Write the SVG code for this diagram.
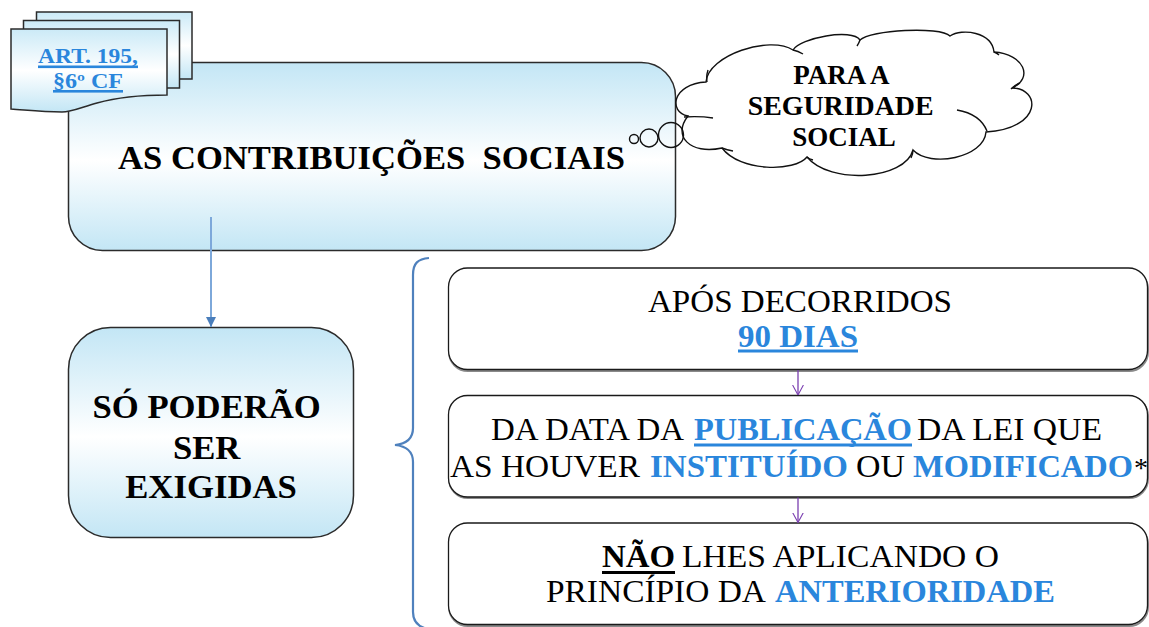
<svg xmlns="http://www.w3.org/2000/svg" width="1149" height="627" viewBox="0 0 1149 627">
<style>
.serif{font-family:"Liberation Serif","Times New Roman",serif;}
.b{font-weight:bold;}
.blk{fill:#000;}
.blue{fill:#2a86dc;}
.box{stroke:#2b2b2b;stroke-width:1.5;}
.wbox{fill:#fff;stroke:#1a1a1a;stroke-width:1.3;}
.shadow{fill:none;stroke:#8a8a8a;stroke-width:2;}
.cloud{fill:none;stroke:#111;stroke-width:1.4;}
.purple{stroke:#7a3fb0;stroke-width:1.3;fill:none;}
</style>
<defs>
<linearGradient id="gBlue" x1="0" y1="0" x2="0" y2="1">
<stop offset="0" stop-color="#c3e6f5"/>
<stop offset="0.52" stop-color="#ffffff"/>
<stop offset="1" stop-color="#c3e6f5"/>
</linearGradient>
<linearGradient id="gPage" x1="0" y1="0" x2="0" y2="1">
<stop offset="0" stop-color="#cbeaf7"/>
<stop offset="0.5" stop-color="#ffffff"/>
<stop offset="1" stop-color="#c3e6f5"/>
</linearGradient>
<marker id="arrBlue" viewBox="0 0 10 10" refX="10" refY="5" markerWidth="5" markerHeight="5" orient="auto" markerUnits="strokeWidth">
<path d="M0,0 L10,5 L0,10 Z" fill="#4a7ebb"/>
</marker>
<marker id="arrPurple" viewBox="0 0 12 14" refX="12" refY="7" markerWidth="10" markerHeight="12" orient="auto" markerUnits="userSpaceOnUse">
<path d="M0,0.5 L12,7 L0,13.5" fill="none" stroke="#7a3fb0" stroke-width="1.3"/>
</marker>
</defs>

<g id="main-box">
<rect x="68.5" y="62.5" width="607" height="188" rx="34" ry="34" fill="url(#gBlue)" class="box"/>
<text class="serif b blk" x="371.5" y="169" font-size="34.7" text-anchor="middle" textLength="507" lengthAdjust="spacingAndGlyphs" xml:space="preserve">AS CONTRIBUIÇÕES  SOCIAIS</text>
</g>

<g id="doc-stack">
<path d="M36.5,12 H192 V79 H36.5 Z" fill="url(#gPage)" class="box"/>
<path d="M23.5,20.5 H179.5 V88 H23.5 Z" fill="url(#gPage)" class="box"/>
<path d="M11,29 H167 V95 C140,95 115,98 97,103 C82,107 72,112 62,112 C42,112 26,110 11,109 Z" fill="url(#gPage)" class="box"/>
<text class="serif b blue" x="88" y="63" font-size="20" text-anchor="middle" textLength="100" lengthAdjust="spacingAndGlyphs">ART. 195,</text>
<rect x="38" y="65.5" width="100" height="2.6" fill="#2a86dc"/>
<text class="serif b blue" x="88" y="88" font-size="20" text-anchor="middle" textLength="70" lengthAdjust="spacingAndGlyphs">§6º CF</text>
<rect x="53" y="90" width="70" height="2.6" fill="#2a86dc"/>
</g>

<g id="thought-cloud">
<circle cx="634" cy="139" r="4.5" class="cloud"/>
<circle cx="649" cy="138" r="9" class="cloud"/>
<circle cx="671" cy="135" r="12.5" class="cloud"/>
<path class="cloud" d="M706,82 C708,55 770,35 793,50 C800,38 852,28 860,40 C870,30 940,26 950,36 C962,28 992,32 994,52 C1024,54 1034,78 1012,88 C1040,88 1044,128 986,132 C984,158 930,168 913,150 C905,180 830,185 807,157 C795,172 740,172 722,148 C690,155 672,136 688,116 C668,112 672,84 706,82 Z"/>
<path class="cloud" d="M707,82 Q706,76 708,70 M793,50 Q798,51 803,54 M860,40 Q859,43 857,46 M994,52 Q997,53 999,55 M1011,89 Q1015,85 1020,83 M957,110 Q980,114 987,131 M913,150 Q913,154 911,158 M807,157 Q809,159 813,160 M722,148 Q727,150 733,151 M684,117 Q700,116 713,118"/>
<text class="serif b blk" font-size="27" text-anchor="middle">
<tspan x="844" y="84">PARA A</tspan>
<tspan x="844" y="115" textLength="186" lengthAdjust="spacingAndGlyphs">SEGURIDADE</tspan>
<tspan x="844" y="146">SOCIAL</tspan>
</text>
</g>

<g id="exigidas-box">
<rect x="68.5" y="327.5" width="285" height="210" rx="42" ry="42" fill="url(#gBlue)" class="box"/>
<text class="serif b blk" font-size="34.7" text-anchor="middle">
<tspan x="211" y="418">SÓ PODERÃO</tspan>
<tspan x="211" y="459">SER</tspan>
<tspan x="211" y="498">EXIGIDAS</tspan>
</text>
</g>

<g id="brace">
<path d="M429,258 C418,259 413,263 413,275 V428 C413,440 405,444 395,445 C405,446 413,450 413,462 V612 C413,622 418,627 428,629" fill="none" stroke="#4f81bd" stroke-width="2.2"/>
</g>

<g id="box-90-dias">
<rect x="449" y="270" width="699" height="101" rx="19" ry="19" class="shadow"/>
<rect x="448.5" y="268" width="699" height="101.5" rx="19" ry="19" class="wbox"/>
<text class="serif blk" x="648" y="312" font-size="32.5" textLength="304" lengthAdjust="spacingAndGlyphs">APÓS DECORRIDOS</text>
<text class="serif b blue" x="738" y="347" font-size="32.5" textLength="120" lengthAdjust="spacingAndGlyphs">90 DIAS</text>
<rect x="738" y="349.5" width="120" height="3" fill="#2a86dc"/>
</g>

<g id="box-publicacao">
<rect x="449" y="397" width="699" height="101" rx="19" ry="19" class="shadow"/>
<rect x="448.5" y="395.5" width="699" height="101.5" rx="19" ry="19" class="wbox"/>
<text class="serif" font-size="32.5" y="440">
<tspan class="blk" x="491" textLength="193" lengthAdjust="spacingAndGlyphs">DA DATA DA</tspan><tspan class="b blue" x="694" textLength="218" lengthAdjust="spacingAndGlyphs">PUBLICAÇÃO</tspan><tspan class="blk" x="917" textLength="185" lengthAdjust="spacingAndGlyphs">DA LEI QUE</tspan>
</text>
<rect x="694" y="443.5" width="218" height="3" fill="#2a86dc"/>
<text class="serif" font-size="32.5" y="477">
<tspan class="blk" x="450" textLength="190" lengthAdjust="spacingAndGlyphs">AS HOUVER</tspan><tspan class="b blue" x="650" textLength="198" lengthAdjust="spacingAndGlyphs">INSTITUÍDO</tspan><tspan class="blk" x="856" textLength="49" lengthAdjust="spacingAndGlyphs">OU</tspan><tspan class="b blue" x="913" textLength="220" lengthAdjust="spacingAndGlyphs">MODIFICADO</tspan><tspan class="blk" x="1134" font-size="28">*</tspan>
</text>
</g>

<g id="box-anterioridade">
<rect x="449" y="525" width="699" height="101" rx="19" ry="19" class="shadow"/>
<rect x="448.5" y="523" width="699" height="101.5" rx="19" ry="19" class="wbox"/>
<text class="serif" font-size="32.5" y="567">
<tspan class="b blk" x="602" textLength="73" lengthAdjust="spacingAndGlyphs">NÃO</tspan><tspan class="blk" x="682" textLength="317" lengthAdjust="spacingAndGlyphs">LHES APLICANDO O</tspan>
</text>
<rect x="602" y="571" width="73" height="3" fill="#000"/>
<text class="serif" font-size="32.5" y="602">
<tspan class="blk" x="546" textLength="220" lengthAdjust="spacingAndGlyphs">PRINCÍPIO DA</tspan><tspan class="b blue" x="775" textLength="280" lengthAdjust="spacingAndGlyphs">ANTERIORIDADE</tspan>
</text>
</g>

<g id="connectors">
<line x1="211" y1="217" x2="211" y2="327" stroke="#7da8da" stroke-width="2" marker-end="url(#arrBlue)"/>
<line x1="798" y1="370" x2="798" y2="395" class="purple" marker-end="url(#arrPurple)"/>
<line x1="798" y1="497.5" x2="798" y2="522.5" class="purple" marker-end="url(#arrPurple)"/>
</g>
</svg>
